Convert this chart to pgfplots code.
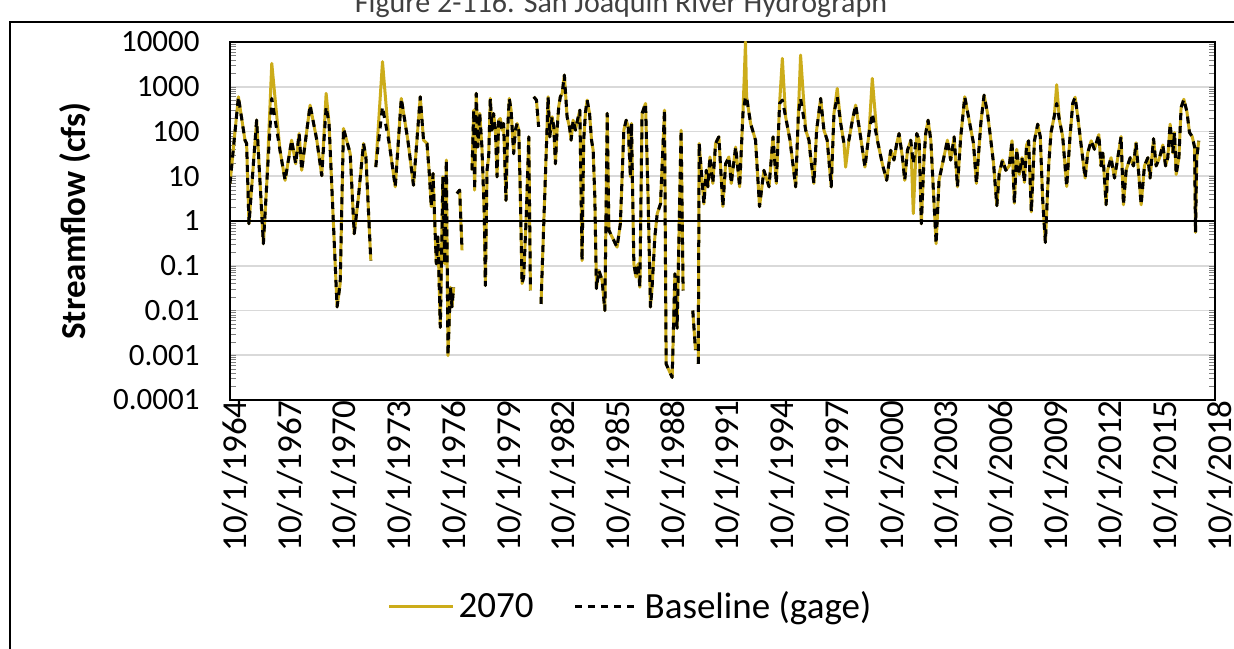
\documentclass[border=0pt]{standalone}
\usepackage{pgfplots}
\pgfplotsset{compat=1.18}
\usepackage{pgfplotstable}
\usepackage{fontspec}
\setmainfont{Carlito}
\definecolor{c2070}{RGB}{204,172,26}
\definecolor{gridc}{RGB}{217,217,217}

\pgfplotstableread{
year base f70
1964.75 6.9 6.9
1965.21 597 597
1965.57 64 64
1965.66 54 54
1965.79 0.87 0.87
1966.21 180 180
1966.58 0.31 0.31
1966.76 6.3 6.3
1967.04 548 3330
1967.49 38 38
1967.77 8.1 8.1
1968.13 64 64
1968.35 19 19
1968.54 90 90
1968.68 13.6 13.6
1969.14 389 389
1969.51 64 64
1969.78 10.3 10.3
1970.02 357 710
1970.18 151 151
1970.62 0.012 0.012
1970.79 0.04 0.04
1970.97 117 117
1971.34 32 32
1971.56 0.52 0.52
1971.79 3.4 3.4
1972.07 54 54
1972.20 27 27
1972.47 0.13 0.13
1972.60 nan nan
1972.74 16 16
1973.11 357 3630
1973.48 54 54
1973.81 5.8 5.8
1974.14 548 548
1974.50 64 64
1974.81 6.3 6.3
1975.18 597 597
1975.36 64 64
1975.55 54 54
1975.69 9.7 9.7
1975.78 2.1 2.1
1975.88 11.5 11.5
1976.06 0.11 0.11
1976.15 0.44 0.44
1976.28 0.0042 0.0042
1976.42 9.7 9.7
1976.52 0.11 0.11
1976.61 23 23
1976.70 0.00098 0.00098
1976.83 0.033 0.033
1976.92 0.012 0.012
1977.01 0.033 0.033
1977.10 nan nan
1977.19 4.1 4.1
1977.34 4.9 4.9
1977.47 0.22 0.22
1977.70 nan nan
1978.02 13.6 13.6
1978.11 300 300
1978.16 4.9 4.9
1978.25 710 710
1978.34 45 45
1978.44 253 253
1978.56 45 45
1978.69 1.46 1.46
1978.75 0.036 0.036
1978.84 13.6 13.6
1978.93 27 27
1979.02 548 548
1979.11 107 107
1979.20 253 253
1979.30 107 107
1979.39 9.7 9.7
1979.48 179 179
1979.57 195 195
1979.66 107 107
1979.75 151 151
1979.88 2.9 2.9
1979.97 107 107
1980.06 548 548
1980.16 300 300
1980.30 32 32
1980.39 107 107
1980.49 151 151
1980.58 107 107
1980.67 3.4 3.4
1980.76 0.040 0.040
1980.85 0.056 0.056
1980.99 1.23 1.23
1981.13 76 76
1981.22 0.028 0.028
1981.31 nan nan
1981.40 597 597
1981.55 503 503
1981.67 127 127
1981.73 nan nan
1981.80 0.014 0.014
1982.19 597 597
1982.28 76 76
1982.41 213 213
1982.50 127 127
1982.59 19 19
1982.68 107 107
1982.77 357 357
1982.86 597 597
1982.96 710 710
1983.08 1824 1824
1983.23 213 213
1983.36 127 127
1983.45 64 64
1983.56 179 179
1983.69 107 107
1983.78 165 165
1983.93 300 300
1984.05 0.13 0.13
1984.14 64 64
1984.24 276 276
1984.33 503 503
1984.46 253 253
1984.57 64 64
1984.66 38 38
1984.75 3.4 3.4
1984.84 0.031 0.031
1984.97 0.079 0.079
1985.15 0.047 0.047
1985.30 0.010 0.010
1985.43 253 253
1985.52 0.62 0.62
1985.97 0.26 0.26
1986.15 0.87 0.87
1986.34 107 107
1986.47 179 179
1986.58 127 127
1986.70 9.7 9.7
1986.76 151 151
1986.89 0.11 0.11
1987.01 0.056 0.056
1987.12 0.11 0.11
1987.22 0.033 0.033
1987.34 253 253
1987.53 424 424
1987.67 3.4 3.4
1987.80 0.012 0.012
1987.89 0.033 0.033
1988.04 0.44 0.44
1988.17 1.46 1.46
1988.35 2.4 2.4
1988.57 300 300
1988.66 0.00064 0.00064
1988.99 0.00032 0.00032
1989.14 0.066 0.066
1989.26 0.004 0.004
1989.48 107 107
1989.59 0.028 0.028
1989.80 nan nan
1990.12 0.010 0.010
1990.27 0.0013 0.0013
1990.35 nan nan
1990.42 0.00064 0.00064
1990.47 54 54
1990.73 2.4 2.4
1990.86 13.6 13.6
1990.95 5.8 5.8
1991.06 27 27
1991.22 6.9 6.9
1991.37 54 54
1991.55 76 76
1991.77 2.1 2.1
1991.92 19 19
1992.10 27 27
1992.23 6.9 6.9
1992.47 45 45
1992.69 5.8 5.8
1992.87 253 253
1993.01 597 10000
1993.07 597 597
1993.29 151 151
1993.56 64 64
1993.78 2.1 2.1
1994.02 13.6 13.6
1994.30 5.8 5.8
1994.52 76 76
1994.70 6.9 6.9
1994.88 424 424
1995.03 503 4300
1995.21 213 213
1995.45 64 64
1995.76 5.8 5.8
1995.91 253 253
1996.03 548 5100
1996.31 107 107
1996.49 64 64
1996.58 27 27
1996.76 6.9 6.9
1996.91 107 107
1997.13 548 548
1997.31 107 107
1997.49 64 64
1997.71 5.8 5.8
1997.86 253 253
1998.04 597 918
1998.23 151 151
1998.41 54 54
1998.50 54 16
1998.68 64 64
1998.87 179 179
1999.05 389 389
1999.32 76 76
1999.56 16 16
1999.78 90 90
1999.96 253 1540
2000.24 64 64
2000.51 19 19
2000.75 8.1 8.1
2000.97 38 38
2001.15 23 23
2001.30 54 54
2001.43 90 90
2001.61 27 27
2001.74 8.1 8.1
2001.89 38 38
2002.07 64 64
2002.21 19 1.46
2002.40 90 90
2002.53 64 64
2002.65 0.87 0.87
2002.80 27 27
2002.89 90 90
2003.02 179 179
2003.17 64 64
2003.31 4.9 4.9
2003.46 0.31 0.31
2003.62 8.1 8.1
2003.81 19 19
2004.08 64 64
2004.26 23 23
2004.45 76 76
2004.63 5.8 5.8
2004.81 76 76
2005.03 597 597
2005.27 179 179
2005.51 54 54
2005.67 6.9 6.9
2005.91 151 151
2006.09 650 650
2006.28 253 253
2006.46 64 64
2006.61 19 19
2006.79 2.2 2.2
2006.92 11.5 11.5
2007.10 23 23
2007.28 13.6 13.6
2007.47 17 17
2007.62 62 62
2007.75 2.5 2.5
2007.88 40 40
2008.02 11 11
2008.17 26 26
2008.30 7.3 7.3
2008.42 50 50
2008.53 62 62
2008.68 1.6 1.6
2008.85 62 62
2009.03 146 146
2009.17 77 77
2009.30 3.1 3.1
2009.45 0.33 0.33
2009.63 17 17
2009.76 95 95
2009.94 223 223
2010.07 424 1110
2010.22 180 180
2010.40 77 77
2010.62 5.9 5.9
2010.80 77 77
2010.95 424 424
2011.08 583 583
2011.22 223 223
2011.41 50 50
2011.63 9.1 9.1
2011.77 33 33
2011.96 62 62
2012.14 40 40
2012.38 85 85
2012.50 17 17
2012.60 33 33
2012.78 2.3 2.3
2012.87 14 14
2013.05 26 26
2013.24 9.1 9.1
2013.42 26 26
2013.60 77 77
2013.73 2.3 2.3
2013.88 14 14
2014.10 26 26
2014.28 17 17
2014.42 56 56
2014.57 11 11
2014.70 2.3 2.3
2014.88 17 17
2015.07 26 26
2015.19 9.1 9.1
2015.38 69 69
2015.52 17 17
2015.71 26 26
2015.89 50 50
2016.04 17 17
2016.16 26 26
2016.29 146 146
2016.44 33 33
2016.53 95 95
2016.62 11 11
2016.77 26 26
2016.89 342 342
2017.04 525 525
2017.21 277 277
2017.35 95 95
2017.50 77 77
2017.63 45 45
2017.68 0.56 0.56
2017.75 26 26
2017.86 62 62
}\flowdata

\begin{document}
\begin{tikzpicture}
\useasboundingbox (0pt,0pt) rectangle (617pt,324pt);
\begin{scope}
\clip (0pt,0pt) rectangle (617pt,324pt);
% outer chart frame
\draw[line width=1.2pt, black] (5pt,-10pt) -- (5pt,313pt) -- (630pt,313pt);
% title (partially cut off at top)
\node[anchor=base, font=\fontsize{15}{18}\selectfont, text=black!75] at (310.5pt,317.8pt) {Figure 2-116. San Joaquin River Hydrograph};
\begin{axis}[
  at={(115pt,124pt)}, anchor=south west,
  scale only axis,
  width=492.5pt, height=179pt,
  ymode=log,
  xmin=1964.75, xmax=2018.75,
  ymin=1e-4, ymax=1e4,
  unbounded coords=jump,
  axis line style={black, line width=1pt},
  ytick={1e-4,1e-3,1e-2,1e-1,1,10,100,1000,10000},
  yticklabels={0.0001,0.001,0.01,0.1,1,10,100,1000,10000},
  xtick={1964.75,1967.75,1970.75,1973.75,1976.75,1979.75,1982.75,1985.75,1988.75,1991.75,1994.75,1997.75,2000.75,2003.75,2006.75,2009.75,2012.75,2015.75,2018.75},
  xticklabels={10/1/1964,10/1/1967,10/1/1970,10/1/1973,10/1/1976,10/1/1979,10/1/1982,10/1/1985,10/1/1988,10/1/1991,10/1/1994,10/1/1997,10/1/2000,10/1/2003,10/1/2006,10/1/2009,10/1/2012,10/1/2015,10/1/2018},
  minor ytick={},
  major tick length=0pt,
  ymajorgrids=true,
  major grid style={gridc, line width=0.8pt},
  yticklabel style={font=\fontsize{15.5}{18}\selectfont, anchor=east, inner sep=0pt, xshift=-15pt},
  xticklabel style={font=\fontsize{17.5}{20}\selectfont, rotate=90, anchor=east, inner sep=0pt, yshift=-2.5pt},
  legend columns=2,
  legend style={at={(0.4076,-0.578)}, anchor=center, draw=none, fill=none,
    font=\fontsize{18.5}{21}\selectfont,
    /tikz/every even column/.append style={column sep=18pt}},
  legend image code/.code={\draw[#1] (0pt,0pt) -- (32pt,0pt);},
  clip=true,
]
\addplot[c2070, line width=1.5pt, line join=round] table[x=year, y=f70] {\flowdata};
\addlegendentry{2070}
\addplot[black, line width=1.5pt, dash pattern=on 3.5pt off 3pt, line join=round] table[x=year, y=base] {\flowdata};
\addlegendentry{Baseline (gage)}
\addplot[black, line width=1pt, forget plot] coordinates {(1964.75,1) (2018.75,1)};
\end{axis}
\node[rotate=90, font=\bfseries\fontsize{17.5}{20}\selectfont] at (37.5pt,213.5pt) {Streamflow (cfs)};
\end{scope}
\end{tikzpicture}
\end{document}
